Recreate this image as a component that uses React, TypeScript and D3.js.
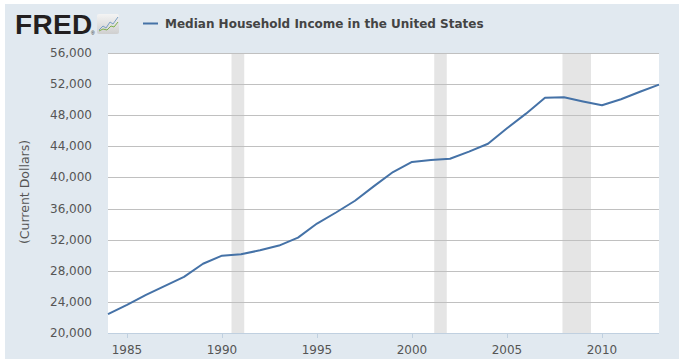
import React from "react";
import * as d3 from "d3";

const years = [1984,1985,1986,1987,1988,1989,1990,1991,1992,1993,1994,1995,1996,1997,1998,1999,2000,2001,2002,2003,2004,2005,2006,2007,2008,2009,2010,2011,2012,2013];
const income = [22415,23618,24897,26061,27225,28906,29943,30126,30636,31241,32264,34076,35492,37005,38885,40696,41990,42228,42409,43318,44334,46326,48201,50233,50303,49777,49276,50054,51017,51939];
const recessionStarts = [1990.5, 2001.17, 2007.92];
const recessionEnds = [1991.17, 2001.83, 2009.42];
const yTicks = [20000,24000,28000,32000,36000,40000,44000,48000,52000,56000];
const xTicks = [1985,1990,1995,2000,2005,2010];
const seriesName = "Median Household Income in the United States";
const yTitle = "(Current Dollars)";

export default function App() {
  const W = 680, H = 359;
  const left = 108, right = 659, top = 53, bottom = 333;
  const x = d3.scaleLinear().domain([1984, 2013]).range([left, right]);
  const y = d3.scaleLinear().domain([20000, 56000]).range([bottom, top]);
  const line = d3.line<number>().x((_, i) => x(years[i])).y((d) => y(d));
  const fmt = d3.format(",");
  const font = "'DejaVu Sans', Verdana, sans-serif";
  return (
    <svg width={W} height={H} style={{ position: "absolute", left: 0, top: 0 }}>
      <defs>
        <linearGradient id="ic" x1="0" y1="0" x2="0" y2="1">
          <stop offset="0" stopColor="#f4f4f4" />
          <stop offset="1" stopColor="#cfcfcf" />
        </linearGradient>
      </defs>
      <rect x={0} y={0} width={W} height={H} fill="#fff" />
      <rect x={5} y={4} width={674} height={355} fill="#E1E9F0" />
      {/* logo */}
      <text x={15} y={34} fontFamily="'Liberation Sans', Arial, sans-serif" fontWeight={900} fontSize={28} fill="#231f20" letterSpacing={0.3}>FRED</text>
      <text x={91} y={35} fontFamily="'Liberation Sans', Arial, sans-serif" fontSize={5} fill="#231f20">®</text>
      <rect x={97} y={14} width={22} height={20} rx={2} fill="url(#ic)" />
      <polyline points="99,30 103,26 106,28 110,22 113,24 118,17" fill="none" stroke="#7a9fc4" strokeWidth={1} />
      <polyline points="99,31 103,29 107,30 111,26 114,27 118,22" fill="none" stroke="#7fb04c" strokeWidth={1} />
      {/* legend */}
      <line x1={143} x2={158} y1={23.5} y2={23.5} stroke="#4572A7" strokeWidth={2} />
      <text x={165} y={28} fontFamily={font} fontWeight="bold" fontSize={12} fill="#444">{seriesName}</text>
      {/* plot */}
      <rect x={left} y={top} width={right - left} height={bottom - top} fill="#fff" />
      {recessionStarts.map((s, i) => (
        <rect key={i} x={x(s)} y={top} width={x(recessionEnds[i]) - x(s)} height={bottom - top} fill="#E5E5E5" />
      ))}
      {yTicks.map((t) => (
        <g key={t}>
          {t !== 20000 && <line x1={left} x2={right} y1={Math.round(y(t)) + 0.5} y2={Math.round(y(t)) + 0.5} stroke="#C0C0C0" strokeWidth={1} />}
          <text x={92} y={y(t) + 4} textAnchor="end" fontFamily={font} fontSize={12} fill="#555">{fmt(t)}</text>
        </g>
      ))}
      <line x1={left} x2={right} y1={bottom + 0.5} y2={bottom + 0.5} stroke="#C0D0E0" strokeWidth={1} />
      {xTicks.map((t) => (
        <g key={t}>
          <line x1={Math.round(x(t)) + 0.5} x2={Math.round(x(t)) + 0.5} y1={bottom} y2={bottom + 5} stroke="#C0D0E0" />
          <text x={x(t)} y={354} textAnchor="middle" fontFamily={font} fontSize={12} fill="#555">{t}</text>
        </g>
      ))}
      <text transform={`translate(29,192) rotate(-90)`} textAnchor="middle" fontFamily={font} fontSize={12.5} fill="#555">{yTitle}</text>
      <path d={line(income) || ""} fill="none" stroke="#4572A7" strokeWidth={2} strokeLinejoin="round" />
    </svg>
  );
}
